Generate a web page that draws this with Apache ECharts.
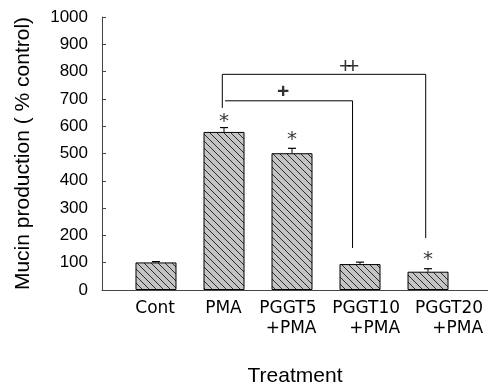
<!DOCTYPE html>
<html>
<head>
<meta charset="utf-8">
<script src="https://cdn.jsdelivr.net/npm/echarts@6/dist/echarts.min.js"></script>
<style>html,body{margin:0;padding:0;background:#fff}#c{width:488px;height:388px}</style>
</head>
<body>
<div id="c"></div>
<script>
// ---- data ----
const categories = ['Cont', 'PMA', 'PGGT5\n+PMA', 'PGGT10\n+PMA', 'PGGT20\n+PMA'];
const values = [101, 579, 501, 95, 67];
const errors = [3, 16, 18, 7, 11];
const yTicks = [0, 100, 200, 300, 400, 500, 600, 700, 800, 900, 1000];
// label anchor (right edge) positions along category scale
const labelPos = [0.28, 1.26, 2.36, 3.59, 4.81];
// significance markers: [categoryIndex, value]
const stars = [[1, 629], [2, 564], [4, 125]];
// brackets (category-scale x, value y)
const bracketOuter = [[0.975, 667], [0.975, 790], [3.966, 790], [3.966, 190]];
const bracketInner = [[1.015, 693], [2.89, 693], [2.89, 154]];
const plusMark = [[1.87, 726]];
const doublePlusMark = [[2.785, 818], [2.895, 818]];

// hatch pattern
const pc = document.createElement('canvas');
pc.width = 7; pc.height = 7;
const g = pc.getContext('2d');
g.fillStyle = '#c4c4c4'; g.fillRect(0, 0, 7, 7);
g.strokeStyle = '#2a2a2a'; g.lineWidth = 1;
g.beginPath();
g.moveTo(-1, -1); g.lineTo(8, 8);
g.moveTo(6, -1); g.lineTo(8, 1);
g.moveTo(-1, 6); g.lineTo(1, 8);
g.stroke();

const chart = echarts.init(document.getElementById('c'), null, {renderer: 'canvas'});

chart.setOption({
  animation: false,
  grid: {left: 102, right: 0, top: 17, bottom: 98, containLabel: false, outerBoundsMode: 'none'},
  xAxis: {
    type: 'value', min: -0.794, max: 4.882,
    splitLine: {show: false},
    axisTick: {show: false},
    axisLine: {show: true, onZero: false, lineStyle: {color: '#444', width: 1}},
    axisLabel: {
      customValues: labelPos,
      formatter: v => {
        let best = 0, d = 1e9;
        labelPos.forEach((p, i) => { if (Math.abs(p - v) < d) { d = Math.abs(p - v); best = i; } });
        return categories[best];
      },
      align: 'right', margin: 9,
      fontFamily: 'DejaVu Sans', fontSize: 17, lineHeight: 20, color: '#000'
    },
    name: 'Treatment', nameLocation: 'middle', nameGap: 76,
    nameTextStyle: {fontFamily: 'Liberation Sans', fontSize: 21, color: '#000'}
  },
  yAxis: {
    type: 'value', min: 0, max: 1000, interval: 100,
    splitLine: {show: false},
    axisLine: {show: true, onZero: false, lineStyle: {color: '#444', width: 1}},
    axisTick: {show: true, inside: true, length: 4, lineStyle: {color: '#444'}},
    axisLabel: {
      margin: 14, fontFamily: 'Liberation Sans', fontSize: 17, color: '#000',
      formatter: v => yTicks.includes(v) ? String(v) : ''
    },
    name: 'Mucin production ( % control)', nameLocation: 'middle', nameGap: 68,
    nameTextStyle: {fontFamily: 'Liberation Sans', fontSize: 21, color: '#000'}
  },
  series: [
    {
      type: 'bar', barWidth: 41,
      data: values.map((v, i) => [i, v]),
      itemStyle: {color: {image: pc, repeat: 'repeat'}, borderColor: '#000', borderWidth: 1}
    },
    {
      type: 'custom', z: 3,
      data: values.map((v, i) => [i, v, errors[i]]),
      renderItem: (params, api) => {
        const x = api.value(0), v = api.value(1), e = api.value(2);
        const p0 = api.coord([x, v]);
        const p1 = api.coord([x, v + e]);
        const hw = 4;
        return {
          type: 'group',
          children: [
            {type: 'line', shape: {x1: p0[0], y1: p0[1], x2: p1[0], y2: p1[1]}, style: {stroke: '#000', lineWidth: 1}},
            {type: 'line', shape: {x1: p1[0] - hw, y1: p1[1], x2: p1[0] + hw, y2: p1[1]}, style: {stroke: '#000', lineWidth: 1.2}}
          ]
        };
      }
    },
    {
      type: 'line', data: bracketOuter, symbol: 'none', z: 4,
      lineStyle: {color: '#000', width: 1}
    },
    {
      type: 'line', data: bracketInner, symbol: 'none', z: 4,
      lineStyle: {color: '#000', width: 1}
    },
    {
      type: 'scatter', data: stars, symbolSize: 0, z: 5,
      label: {show: true, position: 'inside', formatter: '*', fontFamily: 'DejaVu Sans', fontSize: 20, color: '#000', offset: [0, 4]}
    },
    {
      type: 'scatter', data: plusMark, symbolSize: 0, z: 5,
      label: {show: true, position: 'inside', formatter: '+', fontFamily: 'Liberation Sans', fontSize: 21, fontWeight: 'bold', color: '#000'}
    },
    {
      type: 'scatter', data: doublePlusMark, symbolSize: 0, z: 5,
      label: {show: true, position: 'inside', formatter: '+', fontFamily: 'Liberation Sans', fontSize: 22, color: '#000'}
    }
  ]
});
</script>
</body>
</html>
